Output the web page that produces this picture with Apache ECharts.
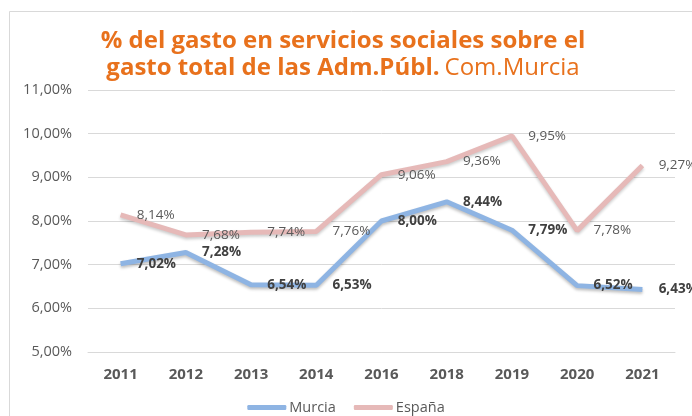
<!DOCTYPE html>
<html><head><meta charset="utf-8">
<script src="https://cdn.jsdelivr.net/npm/echarts@6/dist/echarts.min.js"></script>
<style>html,body{margin:0;padding:0;background:#fff}#c{width:692px;height:416px}</style>
</head><body><div id="c"></div>
<script>
const categories = ['2011','2012','2013','2014','2016','2018','2019','2020','2021'];
const murcia = [7.02, 7.28, 6.54, 6.53, 8.00, 8.44, 7.79, 6.52, 6.43];
const espana = [8.14, 7.68, 7.74, 7.76, 9.06, 9.36, 9.95, 7.78, 9.27];
const yTicks = [5, 6, 7, 8, 9, 10, 11];

const fmt = v => v.toFixed(2).replace('.', ',') + '%';
const chart = echarts.init(document.getElementById('c'));
chart.setOption({
  backgroundColor: '#fff',
  animation: false,
  graphic: [{
    type: 'rect', shape: {x: 9.5, y: 11.5, width: 700, height: 420},
    style: {fill: 'none', stroke: '#d9d9d9', lineWidth: 1}, silent: true, z: -1
  }],
  title: {
    text: '{b|% del gasto en servicios sociales sobre el}\n{b|gasto total de las Adm.Públ.} {n|Com.Murcia}',
    left: 338, top: 23, textAlign: 'center',
    textStyle: {
      rich: {
        b: {fontFamily: 'Open Sans', fontWeight: 'bold', fontSize: 24, color: '#E8711C', lineHeight: 27},
        n: {fontFamily: 'Open Sans', fontWeight: 'normal', fontSize: 24, color: '#E8711C', lineHeight: 27}
      }
    }
  },
  legend: {
    top: 395, left: 'center', itemWidth: 39, itemHeight: 5, itemGap: 18,
    icon: 'roundRect',
    textStyle: {color: '#595959', fontSize: 14.5, fontFamily: 'Open Sans', padding: [0, 0, 0, -2]},
    data: ['Murcia', 'España']
  },
  grid: {left: 88, right: 17, top: 90, bottom: 64},
  xAxis: {
    type: 'category', data: categories, boundaryGap: true,
    axisLine: {lineStyle: {color: '#d9d9d9'}}, axisTick: {show: false},
    axisLabel: {color: '#595959', fontWeight: 'bold', fontSize: 15, fontFamily: 'Open Sans', margin: 15}
  },
  yAxis: {
    type: 'value', min: yTicks[0], max: yTicks[yTicks.length - 1], interval: 1,
    axisLine: {show: false}, axisTick: {show: false},
    splitLine: {lineStyle: {color: '#d9d9d9'}},
    axisLabel: {color: '#595959', fontSize: 14.5, fontFamily: 'Open Sans', margin: 16,
      formatter: v => v.toFixed(2).replace('.', ',') + '%'}
  },
  series: [{
    name: 'Murcia', type: 'line', data: murcia, symbol: 'circle', symbolSize: 0.5, showSymbol: true,
    lineStyle: {color: '#8EB4E3', width: 5, shadowColor: 'rgba(0,0,0,0.25)', shadowBlur: 3, shadowOffsetY: 2},
    itemStyle: {color: '#8EB4E3'},
    label: {show: true, position: 'right', distance: 16, color: '#404040', fontWeight: 'bold', fontSize: 13.5,
      fontFamily: 'Open Sans', formatter: p => fmt(p.value)}
  }, {
    name: 'España', type: 'line', data: espana, symbol: 'circle', symbolSize: 0.5, showSymbol: true,
    lineStyle: {color: '#E6B9B8', width: 5, shadowColor: 'rgba(0,0,0,0.2)', shadowBlur: 3, shadowOffsetY: 2},
    itemStyle: {color: '#E6B9B8'},
    label: {show: true, position: 'right', distance: 16, color: '#595959', fontSize: 13.5,
      fontFamily: 'Open Sans', formatter: p => fmt(p.value)}
  }]
});
</script></body></html>
